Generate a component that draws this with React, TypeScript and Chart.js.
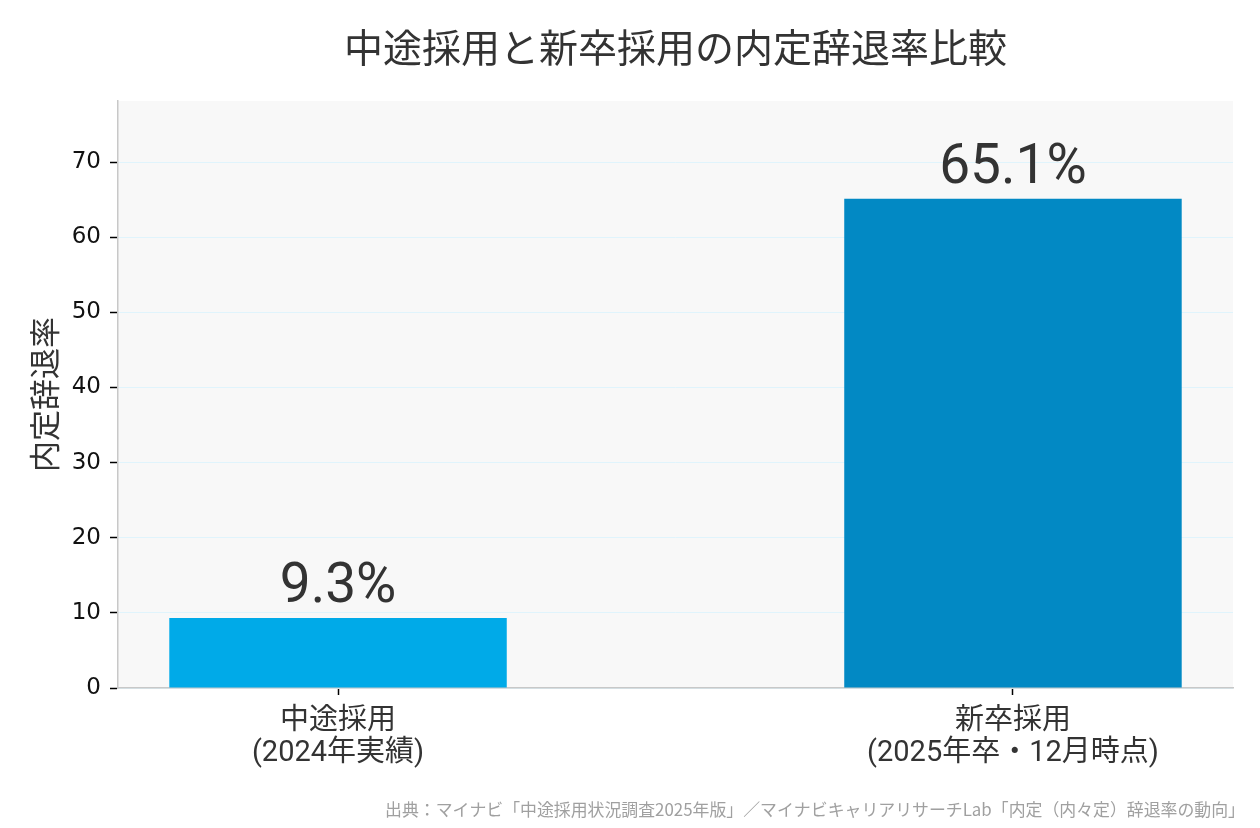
import React, { useEffect, useRef } from "react";
import { Chart, registerables } from "chart.js";

Chart.register(...registerables);

const categories: string[][] = [
  ["中途採用", "(2024年実績)"],
  ["新卒採用", "(2025年卒・12月時点)"],
];
const positions: number[] = [0, 1];
const values: number[] = [9.3, 65.1];
const barColors: string[] = ["#00AAE8", "#0289C4"];
const valueLabels: string[] = ["9.3%", "65.1%"];
const titleText = "中途採用と新卒採用の内定辞退率比較";
const yAxisTitle = "内定辞退率";
const sourceText =
  "出典：マイナビ「中途採用状況調査2025年版」／マイナビキャリアリサーチLab「内定（内々定）辞退率の動向」";

const JP = '"Noto Sans CJK JP", "Noto Sans", sans-serif';
const LATIN_JP = 'Roboto, "Noto Sans CJK JP", sans-serif';

export default function App() {
  const ref = useRef<HTMLCanvasElement | null>(null);

  useEffect(() => {
    document.body.style.margin = "0";
    const canvas = ref.current;
    if (!canvas) return;

    const decor = {
      id: "decor",
      beforeDraw(chart: any) {
        const { ctx, chartArea } = chart;
        ctx.save();
        ctx.fillStyle = "#ffffff";
        ctx.fillRect(0, 0, chart.width, chart.height);
        ctx.fillStyle = "#f8f8f8";
        ctx.fillRect(
          chartArea.left,
          chartArea.top,
          chartArea.right - chartArea.left,
          chartArea.bottom - chartArea.top
        );
        ctx.restore();
      },
      afterDraw(chart: any) {
        const { ctx, chartArea } = chart;
        ctx.save();
        // title
        ctx.fillStyle = "#333333";
        ctx.font = `39px ${JP}`;
        ctx.textAlign = "center";
        ctx.textBaseline = "middle";
        ctx.fillText(titleText, (chartArea.left + chartArea.right) / 2, 47);
        // y axis title
        ctx.save();
        ctx.translate(44, (chartArea.top + chartArea.bottom) / 2);
        ctx.rotate(-Math.PI / 2);
        ctx.font = `31px ${JP}`;
        ctx.fillText(yAxisTitle, 0, 0);
        ctx.restore();
        // source
        ctx.fillStyle = "#a0a0a0";
        ctx.font = `17px ${JP}`;
        ctx.textAlign = "right";
        ctx.textBaseline = "middle";
        ctx.fillText(sourceText, 1245, 810, 860);
        ctx.restore();
      },
      afterDatasetsDraw(chart: any) {
        const { ctx } = chart;
        const meta = chart.getDatasetMeta(0);
        ctx.save();
        ctx.fillStyle = "#333333";
        ctx.font = `55px ${LATIN_JP}`;
        ctx.textAlign = "center";
        ctx.textBaseline = "alphabetic";
        meta.data.forEach((bar: any, i: number) => {
          ctx.fillText(valueLabels[i], bar.x, bar.y - 16);
        });
        ctx.restore();
      },
    };

    const chart = new Chart(canvas, {
      type: "bar",
      data: {
        datasets: [
          {
            data: positions.map((p, i) => ({ x: p, y: values[i] })),
            backgroundColor: barColors,
            borderWidth: 0,
            categoryPercentage: 1,
            barPercentage: 0.5,
          },
        ],
      },
      options: {
        responsive: false,
        animation: false,
        devicePixelRatio: 1,
        layout: { padding: { top: 101, right: 27, left: 0, bottom: 0 } },
        plugins: {
          legend: { display: false },
          title: { display: false },
          tooltip: { enabled: false },
        },
        scales: {
          x: {
            type: "linear",
            offset: false,
            min: -0.326,
            max: 1.326,
            afterBuildTicks: (scale: any) => {
              scale.ticks = positions.map((v) => ({ value: v }));
            },
            afterFit: (scale: any) => {
              scale.height = 140;
            },
            ticks: {
              autoSkip: false,
              maxRotation: 0,
              padding: 11,
              color: "#333333",
              font: { family: LATIN_JP, size: 29, lineHeight: 1.1 },
              callback: (_v: any, i: number) => categories[i],
            },
            grid: {
              offset: false,
              drawOnChartArea: false,
              drawTicks: true,
              tickLength: 7,
              tickColor: "#000000",
              tickWidth: 1.5,
            },
            border: { color: "#c8c8c8", width: 1.5 },
          },
          y: {
            type: "linear",
            min: 0,
            max: 78.12,
            afterFit: (scale: any) => {
              scale.width = 118;
            },
            ticks: {
              stepSize: 10,
              includeBounds: false,
              padding: 9,
              color: "#111111",
              font: { family: '"DejaVu Sans", sans-serif', size: 23 },
            },
            grid: {
              color: "#e0f4fc",
              lineWidth: 1,
              tickLength: 8,
              tickColor: "#000000",
              tickWidth: 1.5,
            },
            border: { color: "#c8c8c8", width: 1.5 },
          },
        },
      },
      plugins: [decor],
    } as any);

    return () => chart.destroy();
  }, []);

  return (
    <div style={{ position: "absolute", left: 0, top: 0, width: 1260, height: 828 }}>
      <canvas ref={ref} width={1260} height={828} style={{ width: 1260, height: 828, display: "block" }} />
    </div>
  );
}
